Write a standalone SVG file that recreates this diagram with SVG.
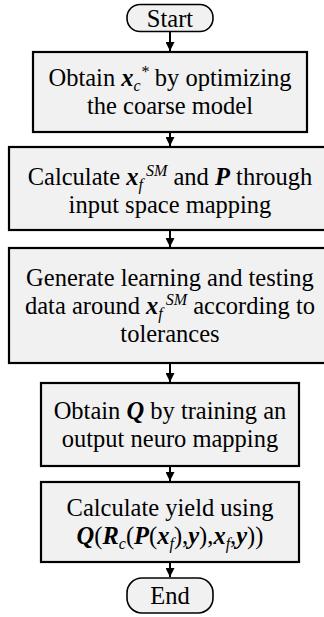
<svg xmlns="http://www.w3.org/2000/svg" width="324" height="617" viewBox="0 0 324 617">
  <style>
    .box { fill: #f1f1f1; stroke: #000; stroke-width: 2.2; }
    .term { fill: #f1f1f1; stroke: #000; stroke-width: 1.6; }
    .lbl { font-family: "Liberation Serif", "Times New Roman", serif; font-size: 24.5px; fill: #000; text-anchor: middle; }
    .v { font-weight: bold; font-style: italic; }
    .s { font-style: italic; font-size: 16px; }
    .edge { stroke: #000; stroke-width: 2; fill: none; marker-end: url(#arrow); }
  </style>
  <defs>
    <marker id="arrow" viewBox="0 0 10 10" refX="10" refY="5" markerWidth="9" markerHeight="9" markerUnits="userSpaceOnUse" orient="auto">
      <path d="M0,0 L10,5 L0,10 Z" fill="#000"/>
    </marker>
  </defs>

  <rect width="324" height="617" fill="#fff"/>

  <g id="connectors">
    <line class="edge" x1="170" y1="31" x2="170" y2="51"/>
    <line class="edge" x1="170" y1="132" x2="170" y2="146"/>
    <line class="edge" x1="170" y1="230" x2="170" y2="247"/>
    <line class="edge" x1="170" y1="363" x2="170" y2="382"/>
    <line class="edge" x1="170" y1="466" x2="170" y2="481"/>
    <line class="edge" x1="170" y1="562" x2="170" y2="577"/>
  </g>

  <g id="start">
    <rect class="term" x="127" y="4.5" width="86" height="27" rx="13" ry="13"/>
    <text class="lbl" x="170" y="26.5">Start</text>
  </g>

  <g id="optimize-coarse">
    <rect class="box" x="33" y="52" width="274" height="80"/>
    <text class="lbl" x="170" y="86">Obtain <tspan class="v">x</tspan><tspan class="s" dy="5">c</tspan><tspan class="s" dy="-14">*</tspan><tspan dy="9"> by optimizing</tspan></text>
    <text class="lbl" x="170" y="114">the coarse model</text>
  </g>

  <g id="input-space-mapping">
    <rect class="box" x="9" y="147" width="323" height="83"/>
    <text class="lbl" x="170" y="185">Calculate <tspan class="v">x</tspan><tspan class="s" dy="5">f</tspan><tspan class="s" dy="-14" dx="3">SM</tspan><tspan dy="9"> and </tspan><tspan class="v">P</tspan> through</text>
    <text class="lbl" x="170" y="213">input space mapping</text>
  </g>

  <g id="generate-data">
    <rect class="box" x="9" y="248" width="323" height="115"/>
    <text class="lbl" x="170" y="285.5">Generate learning and testing</text>
    <text class="lbl" x="170" y="313.5">data around <tspan class="v">x</tspan><tspan class="s" dy="5">f</tspan><tspan class="s" dy="-14" dx="3">SM</tspan><tspan dy="9"> according to</tspan></text>
    <text class="lbl" x="170" y="341.5">tolerances</text>
  </g>

  <g id="train-output-mapping">
    <rect class="box" x="41" y="383" width="258" height="83"/>
    <text class="lbl" x="170" y="418.5">Obtain <tspan class="v">Q</tspan> by training an</text>
    <text class="lbl" x="170" y="446.5">output neuro mapping</text>
  </g>

  <g id="calculate-yield">
    <rect class="box" x="41" y="482" width="258" height="80"/>
    <text class="lbl" x="170" y="516">Calculate yield using</text>
    <text class="lbl" x="170" y="544"><tspan class="v">Q</tspan>(<tspan class="v">R</tspan><tspan class="s" dy="5">c</tspan><tspan dy="-5">(</tspan><tspan class="v">P</tspan>(<tspan class="v">x</tspan><tspan class="s" dy="5">f</tspan><tspan dy="-5">),</tspan><tspan class="v">y</tspan>),<tspan class="v">x</tspan><tspan class="s" dy="5">f</tspan><tspan dy="-5">,</tspan><tspan class="v">y</tspan>))</text>
  </g>

  <g id="end">
    <rect class="term" x="127" y="578" width="86" height="35" rx="15" ry="15"/>
    <text class="lbl" x="170" y="604">End</text>
  </g>
</svg>
